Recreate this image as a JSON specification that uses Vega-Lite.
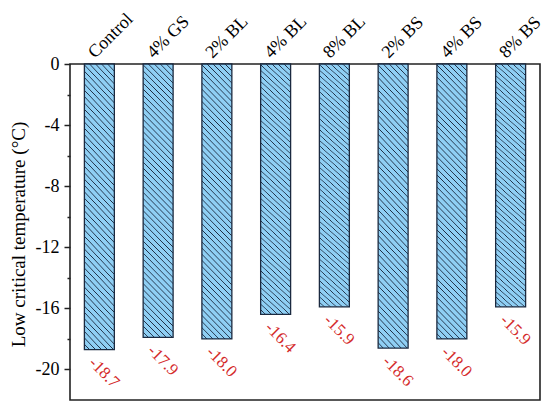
{
  "$schema": "https://vega.github.io/schema/vega-lite/v6.json",
  "width": 470,
  "height": 336,
  "autosize": "none",
  "padding": {"left": 70, "top": 64, "right": 10, "bottom": 11},
  "background": "white",
  "config": {"view": {"stroke": "#222222", "strokeWidth": 1.6}, "font": "Liberation Serif"},
  "data": {"values": [
    {"group": "Control", "value": -18.7, "label": "-18.7"},
    {"group": "4% GS", "value": -17.9, "label": "-17.9"},
    {"group": "2% BL", "value": -18.0, "label": "-18.0"},
    {"group": "4% BL", "value": -16.4, "label": "-16.4"},
    {"group": "8% BL", "value": -15.9, "label": "-15.9"},
    {"group": "2% BS", "value": -18.6, "label": "-18.6"},
    {"group": "4% BS", "value": -18.0, "label": "-18.0"},
    {"group": "8% BS", "value": -15.9, "label": "-15.9"}
  ]},
  "encoding": {
    "x": {
      "field": "group", "type": "nominal", "sort": null,
      "scale": {"paddingInner": 0.49, "paddingOuter": 0.245},
      "axis": {"orient": "top", "title": null, "labelAngle": -45, "labelAlign": "left", "labelBaseline": "middle",
        "labelOffset": -8, "labelPadding": 9, "ticks": false, "domain": false,
        "labelFont": "Liberation Serif", "labelFontSize": 18, "labelColor": "#000000"}
    },
    "y": {
      "field": "value", "type": "quantitative",
      "scale": {"domain": [-22, 0], "nice": false, "zero": false},
      "axis": {
        "title": "Low critical temperature (°C)",
        "values": [0, -2, -4, -6, -8, -10, -12, -14, -16, -18, -20],
        "labelExpr": "datum.value % 4 === 0 ? (datum.value === 0 ? '0' : '-' + abs(datum.value)) : ''",
        "tickSize": {"condition": {"test": "datum.value % 4 === 0", "value": 6}, "value": 3},
        "tickColor": "#222222", "tickWidth": 1.5, "domain": false, "grid": false,
        "labelFont": "Liberation Serif", "labelFontSize": 18, "labelPadding": 5, "labelColor": "#000000",
        "titleFont": "Liberation Serif", "titleFontSize": 19, "titleFontWeight": "normal", "titleColor": "#000000",
        "titleX": -52, "titleY": 170, "titleAngle": -90, "titleAlign": "center", "titleBaseline": "middle"
      }
    }
  },
  "layer": [
    {
      "mark": {
        "type": "bar",
        "stroke": "#1b2a40",
        "strokeWidth": 1.3,
        "fill": {
          "gradient": "linear", "x1": 0, "y1": 1, "x2": 0.122, "y2": -0.098,
          "stops": [
            {"offset": 0, "color": "#8fcff4"},
            {"offset": 0.014, "color": "#8fcff4"}, {"offset": 0.017, "color": "#1b2a40"}, {"offset": 0.02, "color": "#8fcff4"},
            {"offset": 0.034, "color": "#8fcff4"}, {"offset": 0.037, "color": "#1b2a40"}, {"offset": 0.04, "color": "#8fcff4"},
            {"offset": 0.054, "color": "#8fcff4"}, {"offset": 0.057, "color": "#1b2a40"}, {"offset": 0.06, "color": "#8fcff4"},
            {"offset": 0.074, "color": "#8fcff4"}, {"offset": 0.077, "color": "#1b2a40"}, {"offset": 0.08, "color": "#8fcff4"},
            {"offset": 0.094, "color": "#8fcff4"}, {"offset": 0.097, "color": "#1b2a40"}, {"offset": 0.1, "color": "#8fcff4"},
            {"offset": 0.114, "color": "#8fcff4"}, {"offset": 0.117, "color": "#1b2a40"}, {"offset": 0.12, "color": "#8fcff4"},
            {"offset": 0.134, "color": "#8fcff4"}, {"offset": 0.137, "color": "#1b2a40"}, {"offset": 0.14, "color": "#8fcff4"},
            {"offset": 0.154, "color": "#8fcff4"}, {"offset": 0.157, "color": "#1b2a40"}, {"offset": 0.16, "color": "#8fcff4"},
            {"offset": 0.174, "color": "#8fcff4"}, {"offset": 0.177, "color": "#1b2a40"}, {"offset": 0.18, "color": "#8fcff4"},
            {"offset": 0.194, "color": "#8fcff4"}, {"offset": 0.197, "color": "#1b2a40"}, {"offset": 0.2, "color": "#8fcff4"},
            {"offset": 0.214, "color": "#8fcff4"}, {"offset": 0.217, "color": "#1b2a40"}, {"offset": 0.22, "color": "#8fcff4"},
            {"offset": 0.234, "color": "#8fcff4"}, {"offset": 0.237, "color": "#1b2a40"}, {"offset": 0.24, "color": "#8fcff4"},
            {"offset": 0.254, "color": "#8fcff4"}, {"offset": 0.257, "color": "#1b2a40"}, {"offset": 0.26, "color": "#8fcff4"},
            {"offset": 0.274, "color": "#8fcff4"}, {"offset": 0.277, "color": "#1b2a40"}, {"offset": 0.28, "color": "#8fcff4"},
            {"offset": 0.294, "color": "#8fcff4"}, {"offset": 0.297, "color": "#1b2a40"}, {"offset": 0.3, "color": "#8fcff4"},
            {"offset": 0.314, "color": "#8fcff4"}, {"offset": 0.317, "color": "#1b2a40"}, {"offset": 0.32, "color": "#8fcff4"},
            {"offset": 0.334, "color": "#8fcff4"}, {"offset": 0.337, "color": "#1b2a40"}, {"offset": 0.34, "color": "#8fcff4"},
            {"offset": 0.354, "color": "#8fcff4"}, {"offset": 0.357, "color": "#1b2a40"}, {"offset": 0.36, "color": "#8fcff4"},
            {"offset": 0.374, "color": "#8fcff4"}, {"offset": 0.377, "color": "#1b2a40"}, {"offset": 0.38, "color": "#8fcff4"},
            {"offset": 0.394, "color": "#8fcff4"}, {"offset": 0.397, "color": "#1b2a40"}, {"offset": 0.4, "color": "#8fcff4"},
            {"offset": 0.414, "color": "#8fcff4"}, {"offset": 0.417, "color": "#1b2a40"}, {"offset": 0.42, "color": "#8fcff4"},
            {"offset": 0.434, "color": "#8fcff4"}, {"offset": 0.437, "color": "#1b2a40"}, {"offset": 0.44, "color": "#8fcff4"},
            {"offset": 0.454, "color": "#8fcff4"}, {"offset": 0.457, "color": "#1b2a40"}, {"offset": 0.46, "color": "#8fcff4"},
            {"offset": 0.474, "color": "#8fcff4"}, {"offset": 0.477, "color": "#1b2a40"}, {"offset": 0.48, "color": "#8fcff4"},
            {"offset": 0.494, "color": "#8fcff4"}, {"offset": 0.497, "color": "#1b2a40"}, {"offset": 0.5, "color": "#8fcff4"},
            {"offset": 0.514, "color": "#8fcff4"}, {"offset": 0.517, "color": "#1b2a40"}, {"offset": 0.52, "color": "#8fcff4"},
            {"offset": 0.534, "color": "#8fcff4"}, {"offset": 0.537, "color": "#1b2a40"}, {"offset": 0.54, "color": "#8fcff4"},
            {"offset": 0.554, "color": "#8fcff4"}, {"offset": 0.557, "color": "#1b2a40"}, {"offset": 0.56, "color": "#8fcff4"},
            {"offset": 0.574, "color": "#8fcff4"}, {"offset": 0.577, "color": "#1b2a40"}, {"offset": 0.58, "color": "#8fcff4"},
            {"offset": 0.594, "color": "#8fcff4"}, {"offset": 0.597, "color": "#1b2a40"}, {"offset": 0.6, "color": "#8fcff4"},
            {"offset": 0.614, "color": "#8fcff4"}, {"offset": 0.617, "color": "#1b2a40"}, {"offset": 0.62, "color": "#8fcff4"},
            {"offset": 0.634, "color": "#8fcff4"}, {"offset": 0.637, "color": "#1b2a40"}, {"offset": 0.64, "color": "#8fcff4"},
            {"offset": 0.654, "color": "#8fcff4"}, {"offset": 0.657, "color": "#1b2a40"}, {"offset": 0.66, "color": "#8fcff4"},
            {"offset": 0.674, "color": "#8fcff4"}, {"offset": 0.677, "color": "#1b2a40"}, {"offset": 0.68, "color": "#8fcff4"},
            {"offset": 0.694, "color": "#8fcff4"}, {"offset": 0.697, "color": "#1b2a40"}, {"offset": 0.7, "color": "#8fcff4"},
            {"offset": 0.714, "color": "#8fcff4"}, {"offset": 0.717, "color": "#1b2a40"}, {"offset": 0.72, "color": "#8fcff4"},
            {"offset": 0.734, "color": "#8fcff4"}, {"offset": 0.737, "color": "#1b2a40"}, {"offset": 0.74, "color": "#8fcff4"},
            {"offset": 0.754, "color": "#8fcff4"}, {"offset": 0.757, "color": "#1b2a40"}, {"offset": 0.76, "color": "#8fcff4"},
            {"offset": 0.774, "color": "#8fcff4"}, {"offset": 0.777, "color": "#1b2a40"}, {"offset": 0.78, "color": "#8fcff4"},
            {"offset": 0.794, "color": "#8fcff4"}, {"offset": 0.797, "color": "#1b2a40"}, {"offset": 0.8, "color": "#8fcff4"},
            {"offset": 0.814, "color": "#8fcff4"}, {"offset": 0.817, "color": "#1b2a40"}, {"offset": 0.82, "color": "#8fcff4"},
            {"offset": 0.834, "color": "#8fcff4"}, {"offset": 0.837, "color": "#1b2a40"}, {"offset": 0.84, "color": "#8fcff4"},
            {"offset": 0.854, "color": "#8fcff4"}, {"offset": 0.857, "color": "#1b2a40"}, {"offset": 0.86, "color": "#8fcff4"},
            {"offset": 0.874, "color": "#8fcff4"}, {"offset": 0.877, "color": "#1b2a40"}, {"offset": 0.88, "color": "#8fcff4"},
            {"offset": 0.894, "color": "#8fcff4"}, {"offset": 0.897, "color": "#1b2a40"}, {"offset": 0.9, "color": "#8fcff4"},
            {"offset": 0.914, "color": "#8fcff4"}, {"offset": 0.917, "color": "#1b2a40"}, {"offset": 0.92, "color": "#8fcff4"},
            {"offset": 0.934, "color": "#8fcff4"}, {"offset": 0.937, "color": "#1b2a40"}, {"offset": 0.94, "color": "#8fcff4"},
            {"offset": 0.954, "color": "#8fcff4"}, {"offset": 0.957, "color": "#1b2a40"}, {"offset": 0.96, "color": "#8fcff4"},
            {"offset": 0.974, "color": "#8fcff4"}, {"offset": 0.977, "color": "#1b2a40"}, {"offset": 0.98, "color": "#8fcff4"},
            {"offset": 0.994, "color": "#8fcff4"}, {"offset": 0.997, "color": "#1b2a40"}, {"offset": 1, "color": "#8fcff4"}
          ]
        }
      }
    },
    {
      "mark": {"type": "text", "angle": 45, "align": "left", "baseline": "middle", "dx": 2, "dy": 13,
        "font": "Liberation Serif", "fontSize": 17, "color": "#d42a2a"},
      "encoding": {"text": {"field": "label", "type": "nominal"}}
    }
  ]
}
